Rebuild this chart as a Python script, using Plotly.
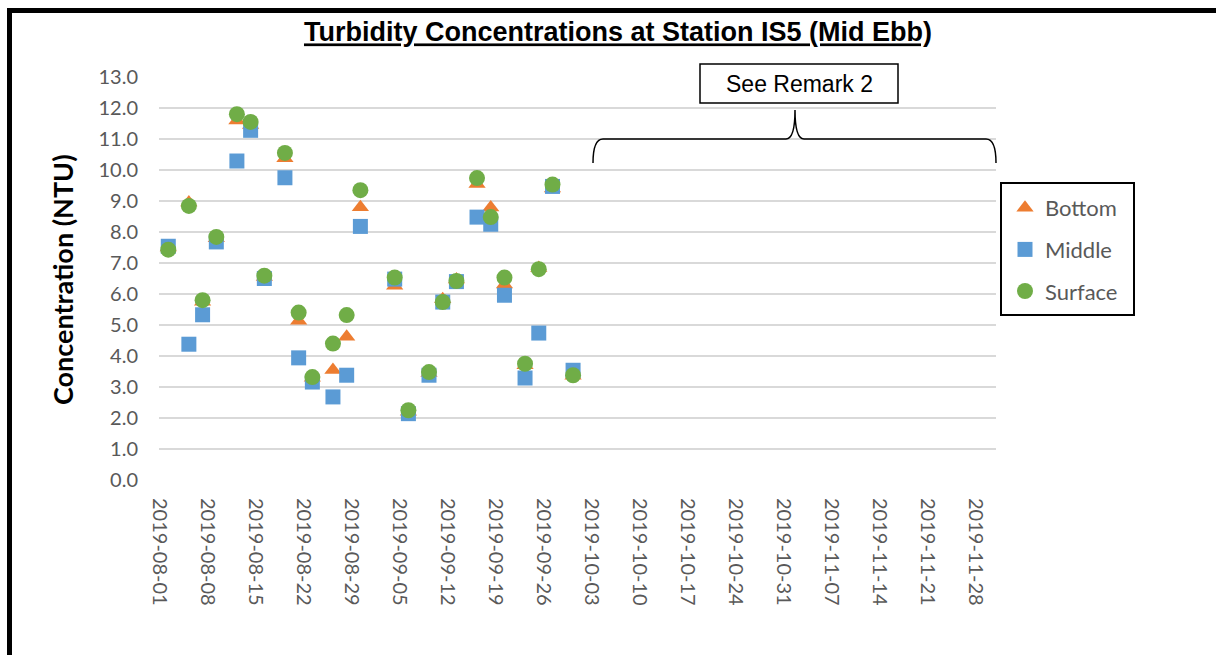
import plotly.graph_objects as go

# sampling dates (mid ebb, morning)
dates = ["2019-08-02", "2019-08-05", "2019-08-07", "2019-08-09", "2019-08-12",
         "2019-08-14", "2019-08-16", "2019-08-19", "2019-08-21", "2019-08-23",
         "2019-08-26", "2019-08-28", "2019-08-30", "2019-09-04", "2019-09-06",
         "2019-09-09", "2019-09-11", "2019-09-13", "2019-09-16", "2019-09-18",
         "2019-09-20", "2019-09-23", "2019-09-25", "2019-09-27", "2019-09-30"]
times = [d + " 08:30" for d in dates]

bottom = [7.50, 8.95, 5.75, 7.80, 11.60, 11.45, 6.55, 10.38, 5.14, 3.30,
          3.55, 4.62, 8.80, 6.27, 2.20, 3.45, 5.83, 6.47, 9.55, 8.79,
          6.31, 3.70, 6.84, 9.40, 3.36]
middle = [7.54, 4.38, 5.33, 7.68, 10.29, 11.28, 6.50, 9.75, 3.94, 3.16,
          2.68, 3.38, 8.18, 6.48, 2.14, 3.38, 5.74, 6.40, 8.48, 8.25,
          5.96, 3.29, 4.74, 9.47, 3.54]
surface = [7.43, 8.84, 5.80, 7.84, 11.80, 11.55, 6.59, 10.55, 5.40, 3.32,
           4.40, 5.32, 9.35, 6.53, 2.25, 3.48, 5.74, 6.42, 9.74, 8.48,
           6.53, 3.75, 6.80, 9.53, 3.38]

series = [("Bottom", bottom, "#ED7D31", "triangle-up", 15),
          ("Middle", middle, "#5B9BD5", "square", 15),
          ("Surface", surface, "#70AD47", "circle", 16)]

# plot area in pixels
L, R, T, B = 159, 996, 77, 480


def px(x):
    return (x - L) / (R - L)


def py(y):
    return (B - y) / (B - T)


fig = go.Figure()
for name, vals, color, sym, size in series:
    fig.add_trace(go.Scatter(x=times, y=vals, mode="markers", name=name,
                             legendgroup=name,
                             marker=dict(color=color, symbol=sym, size=size, line=dict(width=0))))

tick_font = dict(family="Lato", size=20, color="#595959")

fig.update_xaxes(type="date", range=["2019-08-01", "2019-12-01"],
                 tick0="2019-08-01", dtick=7 * 24 * 3600 * 1000,
                 tickformat="%Y-%m-%d", tickangle=90, tickfont=tick_font,
                 showgrid=False, showline=False, zeroline=False,
                 ticks="", ticklabelstandoff=17)
fig.update_yaxes(range=[0, 13], dtick=1, tickformat=".1f", tickfont=tick_font,
                 showgrid=True, gridcolor="#D9D9D9", gridwidth=1.5,
                 zeroline=False, showline=False, ticks="", ticklabelstandoff=20)

# brace spanning the missing period
brace = [(593, 163), (593, 139), (603, 139), (786, 139), (795, 139), (795, 110),
         (795, 139), (804, 139), (986, 139), (996, 139), (996, 163)]
p = [(px(a), py(b)) for a, b in brace]
path = (f"M{p[0][0]},{p[0][1]} Q{p[1][0]},{p[1][1]} {p[2][0]},{p[2][1]} "
        f"L{p[3][0]},{p[3][1]} Q{p[4][0]},{p[4][1]} {p[5][0]},{p[5][1]} "
        f"Q{p[6][0]},{p[6][1]} {p[7][0]},{p[7][1]} L{p[8][0]},{p[8][1]} "
        f"Q{p[9][0]},{p[9][1]} {p[10][0]},{p[10][1]}")

shapes = [
    dict(type="path", xref="paper", yref="paper", path=path,
         line=dict(color="black", width=1.5)),
    dict(type="rect", xref="paper", yref="paper", x0=px(700), x1=px(898),
         y0=py(103), y1=py(64), fillcolor="white", line=dict(color="black", width=1.5),
         layer="above"),
    # legend frame
    dict(type="rect", xref="paper", yref="paper", x0=px(1001), x1=px(1134),
         y0=py(315), y1=py(183), line=dict(color="black", width=2)),
    # outer frame
    dict(type="rect", xref="paper", yref="paper", x0=px(9.5), x1=px(1260),
         y0=py(700), y1=py(10.5), line=dict(color="black", width=5)),
]

annotations = [
    dict(text="See Remark 2", xref="paper", yref="paper", x=px(799), y=py(84),
         xanchor="center", yanchor="middle", showarrow=False,
         font=dict(family="Liberation Sans", size=23, color="black")),
    dict(text="<b>Concentration (NTU)</b>", xref="paper", yref="paper",
         x=px(62), y=py(280), xanchor="center", yanchor="middle",
         textangle=-90, showarrow=False,
         font=dict(family="Lato", size=27, color="black")),
]

fig.update_layout(
    width=1216, height=655,
    margin=dict(l=L, r=1216 - R, t=T, b=655 - B),
    paper_bgcolor="white", plot_bgcolor="white",
    title=dict(text="<b><u>Turbidity Concentrations at Station IS5 (Mid Ebb)</u></b>",
               x=618 / 1216, xref="container", xanchor="center",
               y=1 - 32 / 655, yref="container", yanchor="middle",
               font=dict(family="Liberation Sans", size=27, color="black")),
    showlegend=True,
    legend=dict(x=px(1005), y=py(187), xanchor="left", yanchor="top",
                bgcolor="rgba(0,0,0,0)", borderwidth=0, tracegroupgap=10,
                font=dict(family="Lato", size=22, color="#595959")),
    shapes=shapes, annotations=annotations,
)

# drop the default page margin so the figure sits at the window corner
fig.write_html("out.html", config={"displayModeBar": False},
               post_script="document.body.style.margin='0';")
